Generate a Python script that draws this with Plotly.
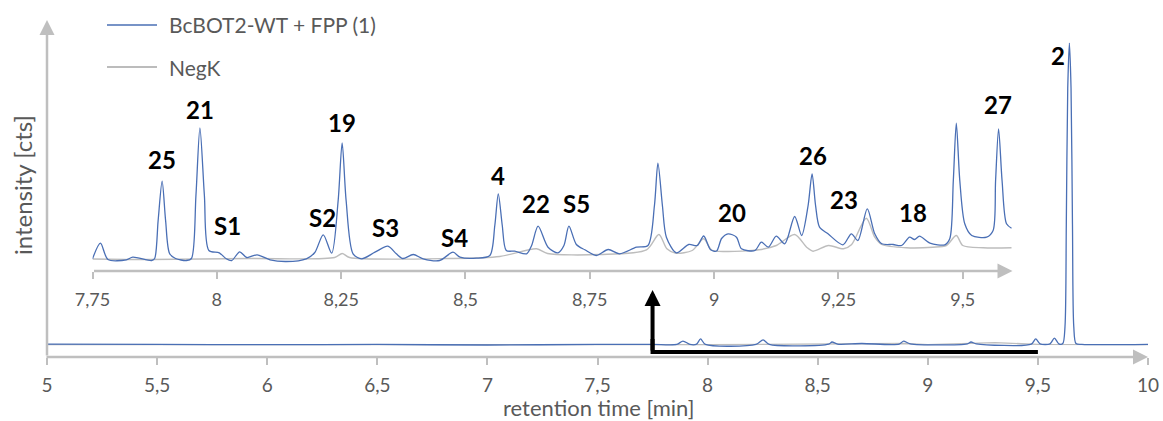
import plotly.graph_objects as go

# ---------------- data ----------------
# Main chromatogram (retention time [min], intensity, arbitrary units; peak 2 = 100)
main_t = [5.00, 5.50, 6.00, 6.50, 7.00, 7.50, 7.75, 7.86, 7.888, 7.92, 7.95, 7.968, 7.99,
          8.22, 8.252, 8.28, 8.55, 8.565, 8.59, 8.70, 8.87, 8.89, 8.92, 9.18, 9.196, 9.22,
          9.47, 9.49, 9.51, 9.555, 9.575, 9.595, 9.613, 9.623, 9.629, 9.6355, 9.643,
          9.6505, 9.657, 9.663, 9.673, 9.70, 10.00]
main_wt = [0.3, 0.2, 0.1, 0.2, 0.0, 0.2, 0.2, 0.2, 1.3, 0.2, 0.3, 2.0, 0.2,
           0.2, 1.7, 0.2, 0.3, 1.0, 0.3, 0.5, 0.3, 1.3, 0.4, 0.4, 1.0, 0.4,
           0.3, 2.0, 0.4, 0.4, 2.3, 0.4, 0.5, 6.0, 40.0, 85.0, 100.0,
           85.0, 40.0, 6.0, 0.5, 0.2, 0.2]
main_neg_t = [5.00, 6.00, 7.00, 8.00, 8.89, 9.00, 9.306, 9.50, 10.00]
main_neg = [0.1, 0.1, 0.0, 0.1, 0.5, 0.1, 0.8, 0.2, 0.1]

# Inset (zoom 7.75 - 9.6 min)
ins_t = [7.750, 7.766, 7.781, 7.818, 7.831, 7.869, 7.875, 7.882, 7.890, 7.897, 7.905, 7.917,
         7.939, 7.949, 7.958, 7.966, 7.975, 7.984, 8.005, 8.019, 8.030, 8.046, 8.060, 8.081,
         8.107, 8.140, 8.180, 8.197, 8.214, 8.231, 8.244, 8.252, 8.260, 8.274, 8.291, 8.318,
         8.344, 8.361, 8.374, 8.395, 8.415, 8.448, 8.475, 8.489, 8.522, 8.549, 8.559, 8.566,
         8.574, 8.582, 8.599, 8.623, 8.633, 8.646, 8.666, 8.686, 8.698, 8.708, 8.723, 8.740,
         8.763, 8.787, 8.810, 8.844, 8.867, 8.880, 8.887, 8.896, 8.904, 8.924, 8.949, 8.966,
         8.979, 8.993, 9.005, 9.015, 9.028, 9.045, 9.055, 9.082, 9.095, 9.109, 9.125, 9.142,
         9.162, 9.176, 9.189, 9.197, 9.204, 9.212, 9.229, 9.259, 9.276, 9.289, 9.308, 9.323,
         9.337, 9.360, 9.377, 9.393, 9.403, 9.413, 9.434, 9.464, 9.474, 9.481, 9.487, 9.494,
         9.504, 9.518, 9.548, 9.561, 9.566, 9.572, 9.579, 9.588, 9.598]
ins_wt = [-0.3, 15.3, -1.0, -1.3, 1.3, -2.0, 0.0, 38.0, 77.3, 38.0, 5.0, 0.0,
          -2.0, 0.0, 63.0, 130.7, 63.0, 8.0, 5.7, -0.3, -2.0, 6.7, 1.0, 3.7,
          -1.3, -3.0, -0.3, 6.0, 23.7, 5.3, 58.0, 115.7, 58.0, 4.7, -0.3, 6.3,
          12.3, 4.7, 0.0, 4.0, -0.3, -2.0, 6.3, 1.3, 0.3, 3.0, 33.0, 64.7,
          33.0, 8.0, 7.3, 4.7, 13.0, 32.3, 11.3, 5.7, 13.0, 32.3, 14.0, 8.7,
          3.0, 9.0, 4.7, 11.3, 13.0, 53.0, 95.3, 53.0, 21.3, 5.7, 14.0, 13.0,
          22.5, 8.7, 7.5, 20.0, 24.7, 21.3, 9.7, 8.0, 16.3, 11.3, 22.3, 14.7,
          42.0, 23.0, 53.0, 84.7, 53.0, 31.3, 24.7, 13.7, 24.7, 18.0, 49.7, 24.7,
          14.7, 14.0, 13.0, 21.3, 19.0, 22.3, 15.3, 13.7, 20.0, 78.0, 135.3, 78.0,
          34.7, 23.0, 21.3, 28.0, 78.0, 129.7, 78.0, 34.7, 30.3]
ins_neg_t = [7.750, 7.865, 8.066, 8.237, 8.252, 8.267, 8.469, 8.569, 8.643, 8.665, 8.770,
             8.864, 8.889, 8.905, 8.923, 8.956, 8.979, 8.995, 9.023, 9.090, 9.125, 9.162,
             9.186, 9.199, 9.230, 9.260, 9.276, 9.306, 9.323, 9.337, 9.387, 9.440, 9.467,
             9.487, 9.500, 9.541, 9.598]
ins_neg = [-0.5, -1.0, 0.0, 1.0, 5.0, 1.0, 0.0, 2.0, 9.7, 5.0, 4.0,
           8.7, 24.0, 9.7, 5.3, 8.0, 19.7, 8.5, 7.0, 8.7, 13.0, 24.0,
           11.3, 7.3, 13.0, 9.7, 13.7, 40.3, 21.3, 14.0, 10.7, 11.3, 13.0,
           23.0, 13.0, 10.7, 10.7]

# Peak labels in inset
lab_text = ["25", "21", "S1", "S2", "19", "S3", "S4", "4", "22", "S5", "20", "26", "23", "18", "27"]
lab_t = [7.889, 7.966, 8.021, 8.212, 8.252, 8.340, 8.477, 8.566, 8.641, 8.723, 9.036, 9.198, 9.262, 9.400, 9.570]
lab_y = [99.0, 148.7, 33.0, 41.3, 136.3, 31.3, 21.3, 83.0, 55.3, 55.3, 46.3, 103.0, 58.7, 45.7, 154.0]
# Peak label in main chart
main_lab_text = ["2"]
main_lab_t = [9.591]
main_lab_y = [96.0]

main_ticks = [5, 5.5, 6, 6.5, 7, 7.5, 8, 8.5, 9, 9.5, 10]
main_ticktext = ["5", "5,5", "6", "6,5", "7", "7,5", "8", "8,5", "9", "9,5", "10"]
ins_ticks = [7.75, 8, 8.25, 8.5, 8.75, 9, 9.25, 9.5]
ins_ticktext = ["7,75", "8", "8,25", "8,5", "8,75", "9", "9,25", "9,5"]

series_names = ["BcBOT2-WT + FPP (1)", "NegK"]
zoom_range = [7.75, 9.5]

# ---------------- style ----------------
BLUE = "#4A6FB5"
GREY = "#BDBDBD"
AXIS = "#BFBFBF"
TXT = "#595959"
FONT = "Lato"

W, H = 1163, 421
L, R, T, B = 47, 15, 18, 64
PW, PH = W - L - R, H - T - B


def px(xp):
    return (xp - L) / PW


def py(yp):
    return (H - B - yp) / PH


fig = go.Figure()
fig.add_trace(go.Scatter(x=main_neg_t, y=main_neg, mode="lines", line=dict(color=GREY, width=1.3),
                         showlegend=False, xaxis="x", yaxis="y"))
fig.add_trace(go.Scatter(x=main_t, y=main_wt, mode="lines", line=dict(color=BLUE, width=1.3, shape="spline", smoothing=0.8),
                         showlegend=False, xaxis="x", yaxis="y"))
fig.add_trace(go.Scatter(x=ins_neg_t, y=ins_neg, mode="lines", line=dict(color=GREY, width=1.4, shape="spline", smoothing=0.8),
                         showlegend=False, xaxis="x2", yaxis="y2"))
fig.add_trace(go.Scatter(x=ins_t, y=ins_wt, mode="lines", line=dict(color=BLUE, width=1.3, shape="spline", smoothing=0.8),
                         showlegend=False, xaxis="x2", yaxis="y2"))

annotations = []
# peak labels
for txt, t, y in zip(lab_text, lab_t, lab_y):
    annotations.append(dict(x=t, y=y, xref="x2", yref="y2", text=txt, showarrow=False,
                            font=dict(family=FONT, size=24, color="black", weight="bold")))
for txt, t, y in zip(main_lab_text, main_lab_t, main_lab_y):
    annotations.append(dict(x=t, y=y, xref="x", yref="y", text=txt, showarrow=False,
                            font=dict(family=FONT, size=24, color="black", weight="bold")))

# axis arrows (gray)
annotations.append(dict(x=10, y=0, xref="x", yref="paper", ax=-1103, ay=0,
                        text="", showarrow=True, arrowhead=2, arrowsize=1.2, arrowwidth=2.5, arrowcolor=AXIS, standoff=0))
annotations.append(dict(x=5, y=py(20), xref="x", yref="paper", ax=0, ay=337, text="", showarrow=True,
                        arrowhead=2, arrowsize=1.2, arrowwidth=2.5, arrowcolor=AXIS, standoff=0))
annotations.append(dict(x=9.60, y=-12.5, xref="x2", yref="y2", ax=-920, ay=0, text="", showarrow=True,
                        arrowhead=2, arrowsize=1.2, arrowwidth=2.5, arrowcolor=AXIS, standoff=0))
# black zoom arrow (vertical part with head)
annotations.append(dict(x=zoom_range[0], y=18.2, xref="x", yref="y", ax=zoom_range[0], ay=-2.32,
                        axref="x", ayref="y", text="", showarrow=True, arrowhead=2, arrowsize=0.8,
                        arrowwidth=4, arrowcolor="black", standoff=0))

# axis titles
annotations.append(dict(x=px(23), y=py(185), xref="paper", yref="paper", xanchor="center", yanchor="middle",
                        text="intensity [cts]", textangle=-90, showarrow=False,
                        font=dict(family=FONT, size=24, color=TXT)))
annotations.append(dict(x=px(598), y=py(407), xref="paper", yref="paper", xanchor="center", yanchor="middle",
                        text="retention time [min]", showarrow=False,
                        font=dict(family=FONT, size=22, color=TXT)))

# manual legend
leg_y = [py(25), py(67)]
leg_col = [BLUE, "#A6A6A6"]
shapes = []
for name, yy, col in zip(series_names, leg_y, leg_col):
    shapes.append(dict(type="line", xref="paper", yref="paper", x0=px(107), x1=px(157),
                       y0=yy, y1=yy, line=dict(color=col, width=1.3)))
    annotations.append(dict(x=px(167), y=yy, xref="paper", yref="paper", text=name,
                            xanchor="left", yanchor="middle", showarrow=False,
                            font=dict(family=FONT, size=21, color=TXT)))

# black horizontal part of zoom arrow
shapes.append(dict(type="path", xref="x", yref="y",
                   path=f"M {zoom_range[1]},-2.32 L {zoom_range[0]},-2.32 L {zoom_range[0]},2",
                   line=dict(color="black", width=4)))

fig.update_layout(
    width=W, height=H,
    margin=dict(l=L, r=R, t=T, b=B, autoexpand=False),
    paper_bgcolor="white", plot_bgcolor="rgba(0,0,0,0)",
    font=dict(family=FONT, color=TXT),
    showlegend=False,
    xaxis=dict(range=[5, 10], tickvals=main_ticks, ticktext=main_ticktext, ticks="outside", ticklen=7,
               tickwidth=2, tickcolor=AXIS, showline=False, showgrid=False, zeroline=False, automargin=False,
               tickfont=dict(family=FONT, size=19, color=TXT), ticklabelstandoff=4),
    yaxis=dict(range=[-3.97, 108.3], showticklabels=False, ticks="", showline=False,
               showgrid=False, zeroline=False, automargin=False),
    xaxis2=dict(domain=[px(92.5), px(1012.5)], range=[7.75, 9.60], anchor="y2",
                tickvals=ins_ticks, ticktext=ins_ticktext, ticks="outside", ticklen=7, tickwidth=2,
                tickcolor=AXIS, showline=False, showgrid=False, zeroline=False, automargin=False,
                tickfont=dict(family=FONT, size=18, color=TXT), ticklabelstandoff=5),
    yaxis2=dict(domain=[py(271), py(101)], range=[-12.5, 157.5], anchor="x2",
                visible=False),
    annotations=annotations,
    shapes=shapes,
)

fig.write_html("out.html")
